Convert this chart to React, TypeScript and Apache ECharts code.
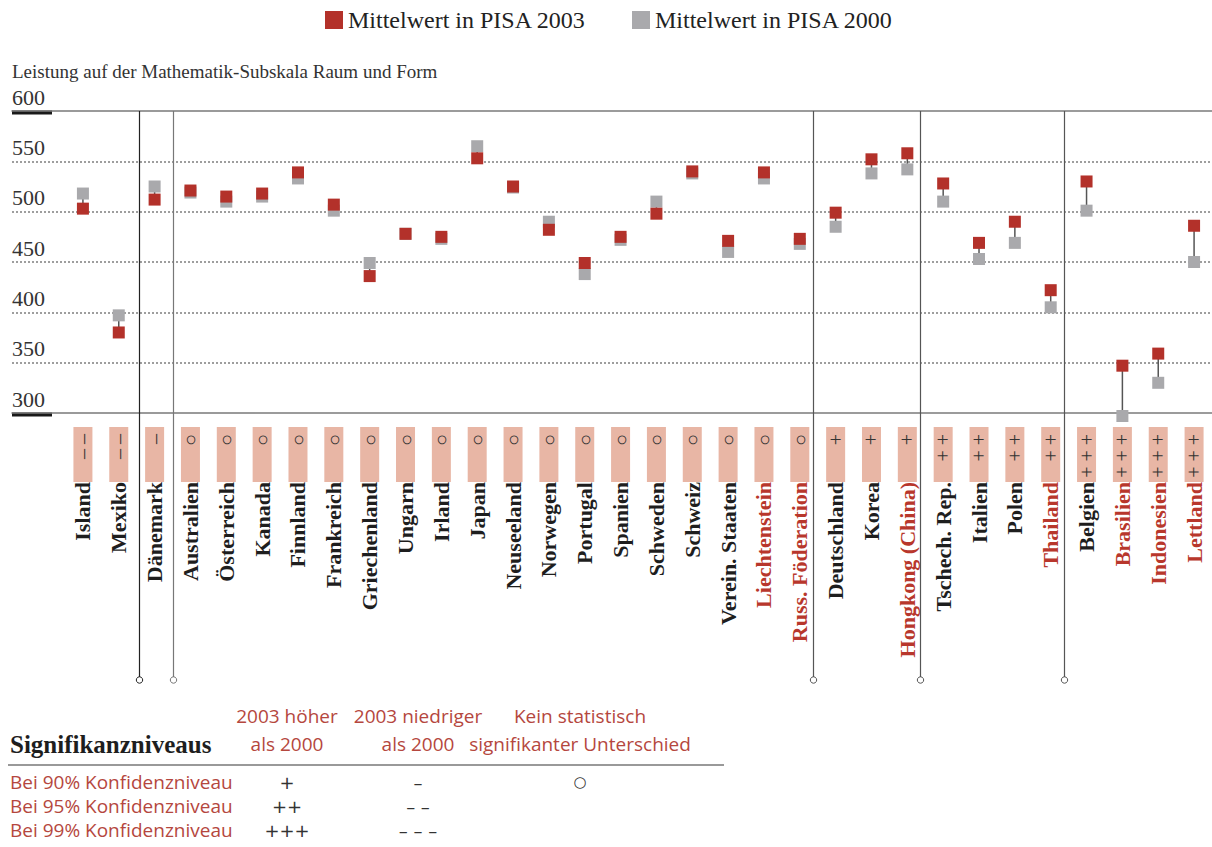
import React, { useEffect, useRef } from "react";
import * as echarts from "echarts";

// ---------- data ----------
const countries = [
  "Island", "Mexiko", "Dänemark", "Australien", "Österreich", "Kanada", "Finnland", "Frankreich",
  "Griechenland", "Ungarn", "Irland", "Japan", "Neuseeland", "Norwegen", "Portugal", "Spanien",
  "Schweden", "Schweiz", "Verein. Staaten", "Liechtenstein", "Russ. Föderation", "Deutschland",
  "Korea", "Hongkong (China)", "Tschech. Rep.", "Italien", "Polen", "Thailand", "Belgien",
  "Brasilien", "Indonesien", "Lettland",
];
const pisa2003 = [
  503, 380, 512, 521, 515, 518, 539, 507, 436, 478, 475, 553, 525, 482, 449, 475,
  498, 540, 471, 539, 473, 499, 552, 558, 528, 469, 490, 422, 530, 347, 359, 486,
];
const pisa2000 = [
  518, 397, 525, 519, 510, 515, 533, 501, 449, 478, 473, 565, 524, 490, 438, 472,
  510, 538, 460, 533, 468, 485, 538, 542, 510, 453, 469, 405, 501, 297, 330, 450,
];
const significance = [
  "– –", "– –", "–", "○", "○", "○", "○", "○", "○", "○", "○", "○", "○", "○", "○", "○",
  "○", "○", "○", "○", "○", "+", "+", "+", "+ +", "+ +", "+ +", "+ +", "+ + +", "+ + +", "+ + +", "+ + +",
];
const highlighted = ["Liechtenstein", "Russ. Föderation", "Hongkong (China)", "Thailand", "Brasilien", "Indonesien", "Lettland"];
const seriesNames = ["Mittelwert in PISA 2003", "Mittelwert in PISA 2000"];
const yMin = 300;
const yMax = 600;
const yStep = 50;
const subtitle = "Leistung auf der Mathematik-Subskala Raum und Form";
// group separators: drawn after these category indices
const separatorsAfter = [1, 2, 20, 23, 27];

const tableTitle = "Signifikanzniveaus";
const tableHeaders = [
  ["2003 höher", "als 2000"],
  ["2003 niedriger", "als 2000"],
  ["Kein statistisch", "signifikanter Unterschied"],
];
const tableRows = ["Bei 90% Konfidenzniveau", "Bei 95% Konfidenzniveau", "Bei 99% Konfidenzniveau"];
const tableHigher = ["+", "++", "+++"];
const tableLower = ["–", "– –", "– – –"];
const tableNone = ["○", "", ""];

// ---------- styles ----------
const RED = "#b3312a";
const GRAY = "#a9a9ac";
const TEXT_RED = "#b8372c";
const HAND_RED = "#b5473e";
const SERIF = '"Liberation Serif", "Times New Roman", serif';
const HAND = '"Open Sans", "Noto Sans", sans-serif';
const SYM = '"DejaVu Sans", sans-serif';

export default function App() {
  const ref = useRef<HTMLDivElement>(null);

  useEffect(() => {
    const chart = echarts.init(ref.current as HTMLDivElement, null, { renderer: "svg" });

    const rich: any = {
      n: { fontFamily: SERIF, fontSize: 22, fontWeight: "bold", color: "#1e1e1e" },
      r: { fontFamily: SERIF, fontSize: 22, fontWeight: "bold", color: TEXT_RED },
      b: {
        fontFamily: SERIF,
        fontSize: 20,
        color: "#333",
        backgroundColor: "#e8b6a5",
        width: 48,
        height: 19,
        align: "right",
        padding: [0, 7, 0, 0],
      },
    };

    const hiddenValueAxis = (gridIndex: number, position: string) => ({
      type: "value",
      gridIndex,
      position,
      min: 0,
      max: 1,
      axisLine: { show: true, onZero: false, lineStyle: { color: "#7a7a7a", width: 1.5 } },
      axisTick: { show: false },
      axisLabel: { show: false },
      splitLine: { show: false },
    });

    const option: any = {
      animation: false,
      title: {
        text: subtitle,
        left: 12,
        top: 62,
        padding: 0,
        textStyle: { fontFamily: SERIF, fontSize: 19, fontWeight: "normal", color: "#333" },
      },
      legend: {
        left: 325,
        top: 8,
        itemWidth: 18,
        itemHeight: 18,
        itemGap: 46,
        padding: 0,
        data: seriesNames,
        textStyle: { fontFamily: SERIF, fontSize: 24, color: "#222" },
      },
      grid: [
        { left: 12, right: 0, top: 111, height: 302 },
        { left: 65, width: 1157, top: 111, height: 302 },
      ],
      xAxis: [
        hiddenValueAxis(0, "bottom"),
        hiddenValueAxis(0, "top"),
        {
          type: "category",
          gridIndex: 1,
          data: countries,
          axisLine: { show: false },
          axisTick: { show: false },
          splitLine: { show: false },
          axisLabel: {
            interval: 0,
            rotate: 90,
            margin: 14,
            formatter: (v: string, i: number) =>
              `{${highlighted.includes(v) ? "r" : "n"}|${v}}{b|${significance[i]}}`,
            rich,
          },
        },
      ],
      yAxis: [
        {
          type: "value",
          gridIndex: 0,
          min: yMin,
          max: yMax,
          interval: yStep,
          axisLine: { show: false },
          axisTick: { show: false },
          axisLabel: {
            inside: true,
            margin: 0,
            verticalAlign: "bottom",
            padding: [0, 0, 3, 0],
            fontFamily: SERIF,
            fontSize: 22,
            color: "#333",
          },
          splitLine: {
            show: true,
            showMinLine: false,
            showMaxLine: false,
            lineStyle: { type: [2, 2], color: "#7f7f7f", width: 1.5 },
          },
        },
        { type: "value", gridIndex: 1, min: yMin, max: yMax, show: false },
      ],
      series: [
        {
          type: "custom",
          xAxisIndex: 2,
          yAxisIndex: 1,
          silent: true,
          clip: false,
          z: 2,
          data: countries.map((c, i) => [i, pisa2000[i], pisa2003[i]]),
          encode: { x: 0, y: [1, 2] },
          renderItem: (params: any, api: any) => {
            const i = api.value(0);
            const a = api.coord([i, api.value(1)]);
            const b = api.coord([i, api.value(2)]);
            return {
              type: "line",
              shape: { x1: a[0], y1: a[1], x2: b[0], y2: b[1] },
              style: { stroke: "#555", lineWidth: 1.5 },
            };
          },
        },
        {
          name: seriesNames[1],
          type: "scatter",
          xAxisIndex: 2,
          yAxisIndex: 1,
          symbol: "rect",
          symbolSize: 12,
          clip: false,
          silent: true,
          z: 3,
          itemStyle: { color: GRAY, opacity: 1 },
          data: pisa2000,
        },
        {
          name: seriesNames[0],
          type: "scatter",
          xAxisIndex: 2,
          yAxisIndex: 1,
          symbol: "rect",
          symbolSize: 12,
          clip: false,
          silent: true,
          z: 4,
          itemStyle: { color: RED, opacity: 1 },
          data: pisa2003,
        },
      ],
    };

    chart.setOption(option);

    // ---------- decorations computed from the axes ----------
    const yTop = chart.convertToPixel({ yAxisIndex: 1 }, yMax) as number;
    const yBottom = chart.convertToPixel({ yAxisIndex: 1 }, yMin) as number;
    const sepColors = ["#222", "#777", "#555", "#555", "#555"];
    const sepOffsets = [2, 0, -5, -5, -5];
    const graphics: any[] = [];

    separatorsAfter.forEach((s, k) => {
      const xa = chart.convertToPixel({ xAxisIndex: 2 }, s) as number;
      const xb = chart.convertToPixel({ xAxisIndex: 2 }, s + 1) as number;
      const x = Math.round((xa + xb) / 2 + sepOffsets[k]) + 0.5;
      graphics.push({
        type: "line",
        silent: true,
        z: 1,
        shape: { x1: x, y1: yTop, x2: x, y2: 677 },
        style: { stroke: sepColors[k], lineWidth: 1.2 },
      });
      graphics.push({
        type: "circle",
        silent: true,
        shape: { cx: x, cy: 680, r: 3.2 },
        style: { fill: "#fff", stroke: sepColors[k], lineWidth: 1 },
      });
    });

    [yTop, yBottom].forEach((y) => {
      graphics.push({
        type: "rect",
        silent: true,
        shape: { x: 12, y: y - 0.5, width: 40, height: 4 },
        style: { fill: "#1a1a1a" },
      });
    });

    // significance table
    const colX = [287, 418, 580];
    const headerY = [716, 744];
    const rowY = [782, 806, 830];

    graphics.push({
      type: "text",
      silent: true,
      x: 10,
      y: 744,
      style: {
        text: tableTitle,
        font: `bold 25px ${SERIF}`,
        fill: "#1e1e1e",
        textAlign: "left",
        textVerticalAlign: "middle",
      },
    });
    tableHeaders.forEach((lines, c) => {
      lines.forEach((t, r) => {
        graphics.push({
          type: "text",
          silent: true,
          x: colX[c],
          y: headerY[r],
          style: {
            text: t,
            font: `19px ${HAND}`,
            fill: HAND_RED,
            textAlign: "center",
            textVerticalAlign: "middle",
          },
        });
      });
    });
    graphics.push({
      type: "line",
      silent: true,
      shape: { x1: 8, y1: 765, x2: 724, y2: 765 },
      style: { stroke: "#777", lineWidth: 1.5 },
    });
    tableRows.forEach((t, r) => {
      graphics.push({
        type: "text",
        silent: true,
        x: 10,
        y: rowY[r],
        style: {
          text: t,
          font: `19px ${HAND}`,
          fill: HAND_RED,
          textAlign: "left",
          textVerticalAlign: "middle",
        },
      });
      [tableHigher[r], tableLower[r], tableNone[r]].forEach((sym, c) => {
        if (!sym) return;
        graphics.push({
          type: "text",
          silent: true,
          x: colX[c],
          y: rowY[r],
          style: {
            text: sym,
            font: `${c === 2 ? 15 : 18}px ${SYM}`,
            fill: "#333",
            textAlign: "center",
            textVerticalAlign: "middle",
          },
        });
      });
    });

    chart.setOption({ graphic: graphics });

    return () => {
      chart.dispose();
    };
  }, []);

  return (
    <div
      ref={ref}
      style={{ position: "absolute", left: 0, top: 0, width: 1212, height: 847 }}
    />
  );
}
